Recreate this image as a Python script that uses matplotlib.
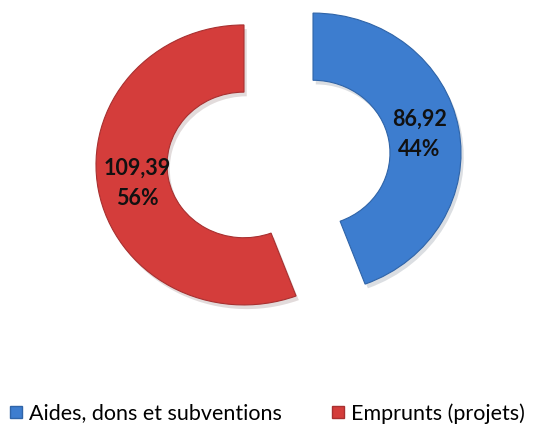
import matplotlib.pyplot as plt
import matplotlib.patheffects as pe
from matplotlib.lines import Line2D

# données
categories = ["Aides, dons et subventions", "Emprunts (projets)"]
valeurs = [86.92, 109.39]
couleurs = ["#3D7DCF", "#D43D3B"]
bords = ["#2F64A8", "#A83030"]

total = sum(valeurs)


def etiquette(pct):
    v = pct * total / 100
    return f"{v:.2f}".replace(".", ",") + f"\n{pct:.0f}%"


plt.rcParams["font.family"] = ["Lato", "DejaVu Sans"]

fig = plt.figure(figsize=(5.6, 4.26), dpi=100)
ax = fig.add_axes([0, 0, 1, 1])

# échelle en pixels (légère perspective : plus large que haut)
rx, ry = 148.0, 140.0
cx, cy = 278.5, 159
wedges, texts, autotexts = ax.pie(
    valeurs,
    colors=couleurs,
    startangle=90,
    counterclock=False,
    explode=[0.237, 0.237],
    radius=1,
    autopct=etiquette,
    pctdistance=0.73,
    wedgeprops=dict(width=0.48, linewidth=0.8),
    textprops=dict(fontsize=15.5, fontweight="bold", color="#111111",
                   linespacing=1.55),
)
for w, b in zip(wedges, bords):
    w.set_edgecolor(b)
    w.set_path_effects([pe.SimplePatchShadow(offset=(2, -3), alpha=0.15),
                        pe.Normal()])

ax.set_xlim((0 - cx) / rx, (560 - cx) / rx)
ax.set_ylim((cy - 426) / ry, (cy - 0) / ry)
ax.set_aspect("auto")
ax.axis("off")

handles = [Line2D([], [], marker="s", linestyle="", markersize=8,
                  markerfacecolor=c, markeredgecolor=b)
           for c, b in zip(couleurs, bords)]
fig.legend(handles, categories, loc="center", bbox_to_anchor=(0.475, 0.03),
           ncol=2, frameon=False, fontsize=15.5, handletextpad=0.2,
           columnspacing=2.2, handlelength=0.8)

fig.savefig("out.png", dpi=100)
